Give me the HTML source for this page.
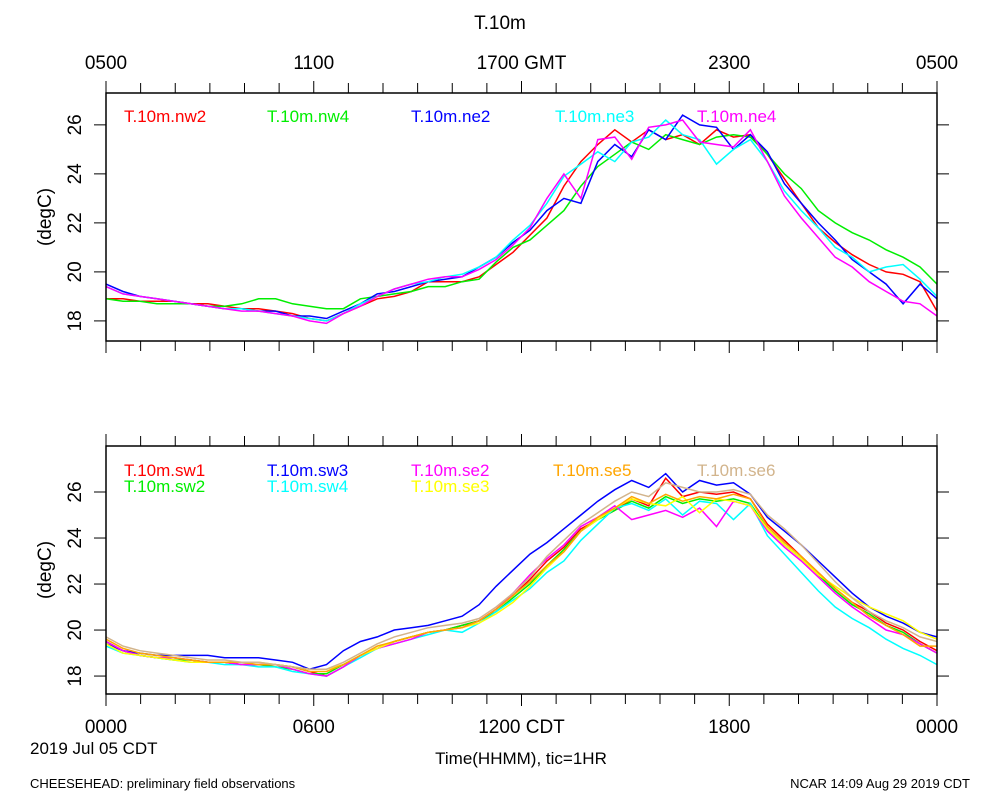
<!DOCTYPE html>
<html><head><meta charset="utf-8"><style>
body{margin:0;background:#fff;}
svg{display:block;font-family:"Liberation Sans",sans-serif;}
</style></head><body>
<svg id="chart" width="1000" height="800" viewBox="0 0 1000 800">
<rect width="1000" height="800" fill="#fff"/>
<text x="500" y="29" font-size="19" text-anchor="middle">T.10m</text>
<text x="30" y="788" font-size="13">CHEESEHEAD: preliminary field observations</text>
<text x="970" y="788" font-size="13" text-anchor="end">NCAR 14:09 Aug 29 2019 CDT</text>
<text x="30" y="754" font-size="17">2019 Jul 05 CDT</text>
<text x="521" y="764" font-size="17" text-anchor="middle">Time(HHMM), tic=1HR</text>
<g id="top"></g><g id="bot"></g>
</svg>
<script>
const topTickLabels = ["0500","1100","1700 GMT","2300","0500"];
const botTickLabels = ["0000","0600","1200 CDT","1800","0000"];
const yTicks = [18,20,22,24,26];
const topNames = ["T.10m.nw2","T.10m.nw4","T.10m.ne2","T.10m.ne3","T.10m.ne4"];
const topColors = ["#ff0000","#00ee00","#0000ff","#00ffff","#ff00ff"];
const nw2 = [18.9,18.9,18.8,18.8,18.8,18.7,18.7,18.6,18.5,18.5,18.4,18.3,18.1,18.0,18.3,18.6,18.9,19.0,19.2,19.6,19.6,19.6,19.8,20.3,20.8,21.5,22.2,23.5,24.5,25.2,25.8,25.3,25.8,25.4,25.6,25.2,25.8,25.5,25.6,24.8,23.8,22.8,21.8,21.2,20.7,20.3,20.0,19.9,19.6,18.4];
const nw4 = [18.9,18.8,18.8,18.7,18.7,18.7,18.6,18.6,18.7,18.9,18.9,18.7,18.6,18.5,18.5,18.9,19.0,19.1,19.2,19.4,19.4,19.6,19.7,20.4,21.0,21.3,21.9,22.5,23.5,24.3,24.8,25.3,25.0,25.6,25.4,25.2,25.5,25.6,25.5,24.8,24.0,23.4,22.5,22.0,21.6,21.3,20.9,20.6,20.2,19.5];
const ne2 = [19.5,19.2,19.0,18.9,18.8,18.7,18.6,18.5,18.5,18.4,18.4,18.2,18.2,18.1,18.4,18.7,19.1,19.2,19.4,19.6,19.7,19.8,20.2,20.6,21.2,21.7,22.5,23.0,22.8,24.5,25.2,24.7,25.8,25.4,26.4,26.0,25.9,25.0,25.6,24.9,23.6,22.8,22.0,21.3,20.5,20.0,19.5,18.7,19.5,18.9];
const ne3 = [19.4,19.1,19.0,18.9,18.8,18.7,18.6,18.5,18.5,18.4,18.3,18.2,18.1,18.0,18.3,18.7,19.0,19.3,19.5,19.6,19.8,19.9,20.2,20.6,21.3,21.9,22.8,23.9,24.4,24.9,24.5,25.3,25.5,26.2,25.6,25.4,24.4,25.0,25.4,24.5,23.3,22.5,21.8,21.0,20.6,20.0,20.2,20.3,19.7,19.0];
const ne4 = [19.4,19.1,19.0,18.9,18.8,18.7,18.6,18.5,18.4,18.4,18.3,18.2,18.0,17.9,18.3,18.6,19.0,19.3,19.5,19.7,19.8,19.8,20.1,20.5,21.1,21.8,23.0,24.0,23.0,25.4,25.5,24.6,25.9,26.0,26.2,25.3,25.2,25.1,25.8,24.5,23.1,22.2,21.4,20.6,20.2,19.6,19.2,18.8,18.7,18.2];
const botNames = ["T.10m.sw1","T.10m.sw2","T.10m.sw3","T.10m.sw4","T.10m.se2","T.10m.se3","T.10m.se5","T.10m.se6"];
const botColors = ["#ff0000","#00ee00","#0000ff","#00ffff","#ff00ff","#ffff00","#ffa500","#d2b48c"];
const sw1 = [19.5,19.1,18.9,18.8,18.8,18.7,18.6,18.6,18.5,18.5,18.5,18.4,18.2,18.0,18.4,18.9,19.2,19.5,19.7,19.9,20.0,20.2,20.4,20.9,21.5,22.2,23.0,23.6,24.4,24.8,25.2,25.7,25.4,26.6,25.8,26.0,25.9,26.0,25.7,24.6,23.9,23.2,22.5,21.8,21.2,20.8,20.3,20.0,19.5,19.1];
const sw2 = [19.5,19.1,18.9,18.8,18.7,18.7,18.6,18.6,18.5,18.5,18.4,18.3,18.1,18.1,18.5,18.9,19.2,19.5,19.7,19.9,20.0,20.2,20.4,20.8,21.4,22.0,22.8,23.5,24.3,24.8,25.2,25.6,25.3,25.8,25.5,25.7,25.6,25.7,25.5,24.4,23.7,23.1,22.4,21.7,21.1,20.7,20.2,19.9,19.4,19.0];
const sw3 = [19.4,19.1,19.0,18.9,18.9,18.9,18.9,18.8,18.8,18.8,18.7,18.6,18.3,18.5,19.1,19.5,19.7,20.0,20.1,20.2,20.4,20.6,21.1,21.9,22.6,23.3,23.8,24.4,25.0,25.6,26.1,26.5,26.2,26.8,26.0,26.5,26.3,26.4,25.9,24.9,24.3,23.7,23.0,22.3,21.6,21.0,20.6,20.3,19.9,19.7];
const sw4 = [19.3,19.0,18.9,18.8,18.7,18.6,18.6,18.5,18.5,18.4,18.4,18.2,18.1,18.0,18.4,18.8,19.2,19.4,19.6,19.8,20.0,19.9,20.3,20.8,21.3,21.8,22.5,23.0,23.9,24.6,25.3,25.5,25.2,25.7,25.0,25.6,25.5,24.8,25.5,24.1,23.3,22.5,21.7,21.0,20.5,20.1,19.6,19.2,18.9,18.5];
const se2 = [19.5,19.1,18.9,18.8,18.8,18.7,18.6,18.6,18.5,18.5,18.5,18.3,18.1,18.0,18.4,18.9,19.2,19.4,19.6,19.9,20.0,20.1,20.4,20.9,21.6,22.4,23.1,23.7,24.5,24.9,25.4,24.8,25.0,25.2,24.9,25.3,24.5,25.6,25.4,24.3,23.6,23.0,22.3,21.6,21.0,20.5,20.0,19.8,19.4,19.0];
const se3 = [19.4,19.0,18.9,18.8,18.7,18.6,18.6,18.6,18.6,18.6,18.5,18.4,18.3,18.3,18.5,18.9,19.2,19.5,19.7,19.9,20.0,20.1,20.3,20.7,21.2,21.9,22.7,23.4,24.3,24.8,25.3,25.7,25.5,25.4,25.8,25.1,25.7,25.6,25.4,24.4,23.7,23.1,22.4,21.9,21.4,21.0,20.7,20.4,19.9,19.6];
const se5 = [19.6,19.2,19.0,18.9,18.8,18.7,18.6,18.6,18.6,18.5,18.5,18.4,18.2,18.2,18.5,18.9,19.3,19.5,19.7,19.9,20.0,20.1,20.4,20.9,21.5,22.1,22.8,23.4,24.3,24.9,25.3,25.8,25.5,25.9,25.6,25.8,25.7,25.9,25.7,24.5,23.8,23.2,22.5,21.8,21.2,20.6,20.2,19.8,19.3,19.3];
const se6 = [19.7,19.3,19.1,19.0,18.9,18.8,18.7,18.7,18.6,18.6,18.5,18.4,18.3,18.3,18.6,19.0,19.4,19.7,19.9,20.1,20.2,20.3,20.5,21.0,21.6,22.3,23.2,23.9,24.6,25.1,25.6,26.0,25.8,26.4,26.2,26.0,26.0,26.1,25.9,25.0,24.4,23.7,22.9,22.1,21.4,20.8,20.4,20.1,19.7,19.5];
const topSeries = [nw2,nw4,ne2,ne3,ne4];
const botSeries = [sw1,sw2,sw3,sw4,se2,se3,se5,se6];

const NS="http://www.w3.org/2000/svg";
const X0=106,X1=937;
function xScale(i,n){return X0+(X1-X0)*i/(n-1);}
function mk(tag,attrs,parent){const e=document.createElementNS(NS,tag);for(const k in attrs)e.setAttribute(k,attrs[k]);parent.appendChild(e);return e;}

function panel(g,top,bot,ylo,yhi,series,colors,names,tickLabels,showBottomLabels,legendRows){
  const yS=v=>bot-(v-ylo)/(yhi-ylo)*(bot-top);
  series.forEach((s,k)=>{
    let d="";s.forEach((v,i)=>{d+=(i?"L":"M")+xScale(i,s.length).toFixed(1)+","+yS(v).toFixed(1);});
    const p=mk("path",{d:d,fill:"none",stroke:colors[k],"stroke-width":1.5},g);
    
    
  });
  const fr=mk("rect",{x:X0,y:top,width:X1-X0,height:bot-top,fill:"none",stroke:"#000","stroke-width":1.5},g);
  
  
  for(let h=0;h<=24;h++){
    const x=X0+(X1-X0)*h/24;
    const len=(h%6===0)?12:10;
    const t1=mk("line",{x1:x,x2:x,y1:top,y2:top-len,stroke:"#000"},g);
    
    
    const t2=mk("line",{x1:x,x2:x,y1:bot,y2:bot+len,stroke:"#000"},g);
    
    
  }
  tickLabels.forEach((lab,j)=>{
    const x=X0+(X1-X0)*j/4;
    const t=mk("text",{x:x,y:showBottomLabels?bot+39:top-24,"font-size":19,"text-anchor":"middle"},g);
    t.textContent=lab;
    
    
  });
  yTicks.forEach(v=>{
    const y=yS(v);
    const a=mk("line",{x1:X0-12,x2:X0,y1:y,y2:y,stroke:"#000"},g);
    
    
    const b=mk("line",{x1:X1,x2:X1+12,y1:y,y2:y,stroke:"#000"},g);
    
    
    const t=mk("text",{x:0,y:0,"font-size":19,"text-anchor":"middle",transform:`translate(81,${y}) rotate(-90)`},g);
    t.textContent=v;
    
    
  });
  const yl=mk("text",{x:0,y:0,"font-size":19,"text-anchor":"middle",transform:`translate(51,${(top+bot)/2}) rotate(-90)`},g);
  yl.textContent="(degC)";
  
  
  names.forEach((n,k)=>{
    const pos=legendRows[k];
    const t=mk("text",{x:pos[0],y:pos[1],"font-size":17,fill:colors[k]},g);
    t.textContent=n;
    
    
  });
}
panel(document.getElementById("top"),93,341,17.18,27.3,topSeries,topColors,topNames,topTickLabels,false,
  [[124,122],[267,122],[411,122],[555,122],[697,122]]);
panel(document.getElementById("bot"),446,694,17.22,28.0,botSeries,botColors,botNames,botTickLabels,true,
  [[124,476],[124,492],[267,476],[267,492],[411,476],[411,492],[553,476],[697,476]]);
</script>
</body></html>
